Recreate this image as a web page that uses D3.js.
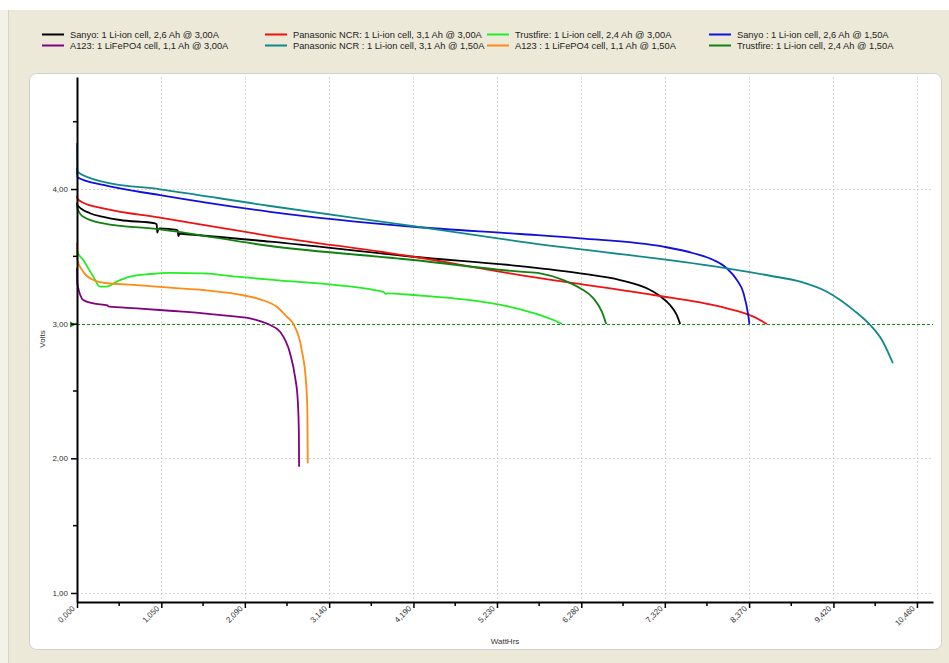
<!DOCTYPE html>
<html>
<head>
<meta charset="utf-8">
<script src="https://cdn.jsdelivr.net/npm/d3@7/dist/d3.min.js"></script>
<style>
  html, body { margin: 0; padding: 0; background: #ECE9D8; }
  svg { display: block; font-family: "Liberation Sans", Arial, sans-serif; }
</style>
</head>
<body>
<svg id="chart" width="949" height="663"></svg>
<script>
// Discharge curves: [energy delivered (WattHrs), cell voltage (Volts)]
const sanyo3A = [[0,3.90],[0.004,3.881],[0.162,3.820],[0.328,3.794],[0.536,3.770],[0.972,3.745],[0.992,3.738],[1.000,3.676],[1.012,3.700],[1.034,3.708],[1.242,3.696],[1.255,3.690],[1.262,3.651],[1.275,3.668],[1.324,3.666],[2.404,3.609],[4.189,3.497],[5.518,3.428],[6.266,3.374],[6.764,3.324],[7.096,3.263],[7.260,3.205],[7.385,3.139],[7.470,3.064],[7.511,2.998]];
const panasonic3A = [[0,3.950],[0.004,3.930],[0.078,3.898],[0.328,3.857],[1.034,3.787],[2.404,3.651],[4.189,3.497],[5.518,3.361],[6.058,3.312],[7.179,3.213],[8.010,3.126],[8.424,3.052],[8.591,2.998]];
const trustfire3A = [[0,3.60],[0.004,3.534],[0.078,3.473],[0.203,3.349],[0.287,3.275],[0.370,3.275],[0.495,3.312],[0.660,3.349],[0.909,3.369],[1.158,3.378],[1.573,3.374],[1.989,3.349],[2.404,3.327],[3.816,3.237],[3.840,3.222],[3.858,3.225],[4.189,3.213],[5.518,3.107],[5.767,3.064],[5.933,3.027],[6.038,2.998]];
const sanyo15A = [[0,4.16],[0.004,4.087],[0.328,4.030],[1.034,3.955],[2.404,3.831],[4.189,3.720],[5.518,3.666],[6.266,3.634],[7.303,3.572],[7.677,3.523],[7.926,3.473],[8.093,3.411],[8.218,3.324],[8.300,3.228],[8.362,3.052],[8.374,2.998]];
const a123_3A = [[0,3.413],[0.004,3.300],[0.078,3.176],[0.203,3.151],[0.380,3.136],[0.390,3.128],[0.744,3.114],[1.158,3.096],[1.573,3.077],[1.989,3.052],[2.155,3.040],[2.238,3.027],[2.404,2.990],[2.529,2.940],[2.653,2.780],[2.715,2.606],[2.749,2.433],[2.763,2.186],[2.766,1.938]];
const panasonic15A = [[0,4.34],[0.004,4.128],[0.328,4.054],[1.034,3.998],[2.404,3.874],[4.189,3.725],[5.518,3.609],[8.093,3.411],[8.632,3.356],[9.006,3.312],[9.338,3.237],[9.504,3.176],[9.670,3.101],[9.878,2.990],[10.024,2.879],[10.161,2.706]];
const a123_15A = [[0,3.60],[0.004,3.473],[0.078,3.386],[0.203,3.324],[0.328,3.304],[0.744,3.287],[1.158,3.267],[1.573,3.250],[1.989,3.220],[2.280,3.181],[2.488,3.126],[2.612,3.052],[2.694,2.998],[2.799,2.804],[2.853,2.557],[2.869,2.359],[2.874,1.963]];
const trustfire15A = [[0,3.90],[0.004,3.857],[0.078,3.794],[0.328,3.745],[1.034,3.701],[2.404,3.577],[4.189,3.473],[5.518,3.386],[5.767,3.374],[6.058,3.324],[6.266,3.263],[6.431,3.188],[6.536,3.089],[6.590,2.998]];

const seriesNames = [
  "Sanyo: 1 Li-ion cell, 2,6 Ah @ 3,00A",
  "Panasonic NCR: 1 Li-ion cell, 3,1 Ah @ 3,00A",
  "Trustfire: 1 Li-ion cell, 2,4 Ah @ 3,00A",
  "Sanyo : 1 Li-ion cell, 2,6 Ah @ 1,50A",
  "A123: 1 LiFePO4 cell, 1,1 Ah @ 3,00A",
  "Panasonic NCR : 1 Li-ion cell, 3,1 Ah @ 1,50A",
  "A123 : 1 LiFePO4 cell, 1,1 Ah @ 1,50A",
  "Trustfire: 1 Li-ion cell, 2,4 Ah @ 1,50A"
];
const seriesValues = [sanyo3A, panasonic3A, trustfire3A, sanyo15A, a123_3A, panasonic15A, a123_15A, trustfire15A];
const seriesColors = ["#000000", "#f01010", "#22ee22", "#1010dd", "#800080", "#10898a", "#ff8a14", "#108010"];

const xTicks = [0, 1.05, 2.09, 3.14, 4.19, 5.23, 6.28, 7.32, 8.37, 9.42, 10.46];
const yTicks = [1, 2, 3, 4];
const yMinorTicks = [1.5, 2.5, 3.5, 4.5];
const cutoffVolts = 3.0;

const svg = d3.select("#chart");
const W = 949, H = 663;

// Window chrome
svg.append("rect").attr("x", 0).attr("y", 0).attr("width", W).attr("height", H).attr("fill", "#ECE9D8");
svg.append("rect").attr("x", 0).attr("y", 0).attr("width", W).attr("height", 10).attr("fill", "#ffffff");
svg.append("rect").attr("x", 0).attr("y", 10).attr("width", 8).attr("height", H - 10).attr("fill", "#f3f1e8");
svg.append("line").attr("x1", 8.5).attr("x2", 8.5).attr("y1", 10).attr("y2", H).attr("stroke", "#d6d3c4");

// Plot panel
svg.append("rect").attr("x", 29.5).attr("y", 73.5).attr("width", 912).attr("height", 576)
  .attr("rx", 7).attr("fill", "#ffffff").attr("stroke", "#cfcfcf");

const x = d3.scaleLinear().domain([0, 10.66]).range([77, 933]);
const y = d3.scaleLinear().domain([0.933, 4.832]).range([602, 77]);

const fmt = d3.formatLocale({ decimal: ",", thousands: ".", grouping: [3], currency: ["", ""] });
const fx = fmt.format(".3f"), fy = fmt.format(".2f");

// Grid
const grid = svg.append("g");
grid.selectAll(".gx").data(xTicks.slice(1)).join("line")
  .attr("x1", d => Math.round(x(d)) + 0.5).attr("x2", d => Math.round(x(d)) + 0.5)
  .attr("y1", y.range()[1]).attr("y2", y.range()[0])
  .attr("stroke", "#d4d4d4").attr("stroke-dasharray", "2,2");
grid.selectAll(".gy").data(yTicks.filter(d => d !== cutoffVolts)).join("line")
  .attr("x1", x.range()[0]).attr("x2", x.range()[1])
  .attr("y1", d => Math.round(y(d)) + 0.5).attr("y2", d => Math.round(y(d)) + 0.5)
  .attr("stroke", "#d4d4d4").attr("stroke-dasharray", "2,2");

// Cut-off line at 3,00 V
const ay = Math.round(y(cutoffVolts)) + 0.5;
svg.append("line")
  .attr("x1", x.range()[0]).attr("x2", x.range()[1]).attr("y1", ay).attr("y2", ay)
  .attr("stroke", "#1a8a1a").attr("stroke-dasharray", "3,2");
svg.append("path").attr("d", `M70,${ay - 3}L76,${ay}L70,${ay + 3}Z`).attr("fill", "#1a8a1a");

// Curves
const line = d3.line().x(d => x(d[0])).y(d => y(d[1])).curve(d3.curveMonotoneX);
svg.append("g").selectAll("path").data(seriesValues).join("path")
  .attr("d", line).attr("fill", "none")
  .attr("stroke", (d, i) => seriesColors[i]).attr("stroke-width", 1.8)
  .attr("stroke-linejoin", "round");

// Axes
const xAxis = svg.append("g").attr("transform", `translate(0,${y.range()[0]})`)
  .call(d3.axisBottom(x).tickValues(xTicks).tickSizeInner(6).tickSizeOuter(0).tickFormat(fx));
xAxis.select(".domain").attr("stroke-width", 2);
xAxis.selectAll(".tick line").attr("stroke-width", 1.5);
xAxis.selectAll(".tick text")
  .attr("text-anchor", "end").attr("fill", "#333")
  .attr("transform", "translate(-4,5) rotate(-45)")
  .attr("x", 0).attr("y", 0).attr("dy", "0.35em")
  .style("font-size", "8px");
const minorX = d3.pairs(xTicks).map(p => (p[0] + p[1]) / 2);
svg.append("g").selectAll("line").data(minorX).join("line")
  .attr("x1", d => x(d)).attr("x2", d => x(d)).attr("y1", y.range()[0]).attr("y2", y.range()[0] + 4)
  .attr("stroke", "#000").attr("stroke-width", 1.5);

const yAxis = svg.append("g").attr("transform", `translate(${x.range()[0]},0)`)
  .call(d3.axisLeft(y).tickValues(yTicks).tickSizeInner(6).tickSizeOuter(0).tickFormat(fy));
yAxis.select(".domain").attr("stroke-width", 2);
yAxis.selectAll(".tick line").attr("stroke-width", 1.5);
yAxis.selectAll(".tick text").attr("fill", "#333").attr("x", -9).style("font-size", "8px");
svg.append("g").selectAll("line").data(yMinorTicks).join("line")
  .attr("x1", x.range()[0] - 4).attr("x2", x.range()[0]).attr("y1", d => y(d)).attr("y2", d => y(d))
  .attr("stroke", "#000").attr("stroke-width", 1.5);

// Axis titles
svg.append("text").attr("x", 505).attr("y", 644).attr("text-anchor", "middle")
  .attr("fill", "#333").style("font-size", "8px").text("WattHrs");
svg.append("text").attr("transform", "translate(45,339) rotate(-90)").attr("text-anchor", "middle")
  .attr("fill", "#333").style("font-size", "8px").text("Volts");

// Legend
const legX = [42, 265, 487, 709];
const legY = [34.5, 45.5];
const legend = svg.append("g");
seriesNames.forEach((name, i) => {
  const col = i % 4, row = Math.floor(i / 4);
  const lx = legX[col], ly = legY[row];
  legend.append("line").attr("x1", lx).attr("x2", lx + 22).attr("y1", ly).attr("y2", ly)
    .attr("stroke", seriesColors[i]).attr("stroke-width", 2);
  legend.append("text").attr("x", lx + 28).attr("y", ly + 3.3)
    .attr("fill", "#222").style("font-size", "9.3px").text(name);
});
</script>
</body>
</html>
